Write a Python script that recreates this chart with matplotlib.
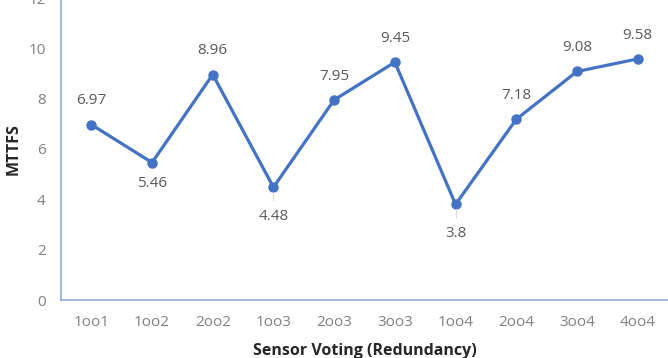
import numpy as np
import matplotlib.pyplot as plt

plt.rcParams['font.family'] = ['Open Sans', 'DejaVu Sans']

# data
configs = ['1oo1', '1oo2', '2oo2', '1oo3', '2oo3', '3oo3', '1oo4', '2oo4', '3oo4', '4oo4']
mttfs = [6.97, 5.46, 8.96, 4.48, 7.95, 9.45, 3.8, 7.18, 9.08, 9.58]

# label placement (points offset above/below marker), leader line or not
label_dy = [17, -15, 17, -21, 17, 17, -21, 17, 17, 17]
leader = [False, False, False, True, False, False, True, False, False, False]

blue = '#4472C4'
grey = '#808080'

fig = plt.figure(figsize=(6.68, 3.58), dpi=100)
ax = fig.add_axes([61/668, 58/358, 607/668, 302/358])

x = np.arange(len(configs))
ax.plot(x, mttfs, color=blue, lw=2.3, marker='o', ms=6.5, solid_capstyle='round')

for xi, v, dy, ld in zip(x, mttfs, label_dy, leader):
    if ld:
        ax.plot([xi, xi], [v - 0.2, v - 0.5], color='#D9D9D9', lw=0.8)
    ax.annotate(str(v), (xi, v), xytext=(0, dy), textcoords='offset points',
                ha='center', va='center', fontsize=11, color='#595959')

ax.set_xlim(-0.5, len(configs) - 0.5)
ax.set_ylim(0, 12)
ax.set_yticks(range(0, 13, 2))
ax.set_xticks(x)
ax.set_xticklabels(configs)
ax.tick_params(length=0, labelsize=11, labelcolor=grey)
ax.tick_params(axis='x', pad=11)
ax.tick_params(axis='y', pad=11)

for s in ['top', 'right']:
    ax.spines[s].set_visible(False)
for s in ['left', 'bottom']:
    ax.spines[s].set_color('#8FAADC')
    ax.spines[s].set_linewidth(1.2)

ax.set_ylabel('MTTFS', fontsize=11.5, fontweight='bold', color='#262626', labelpad=5)
ax.set_xlabel('Sensor Voting (Redundancy)', fontsize=11.5, fontweight='bold', color='#262626', labelpad=9)

fig.savefig('out.png', dpi=100)
